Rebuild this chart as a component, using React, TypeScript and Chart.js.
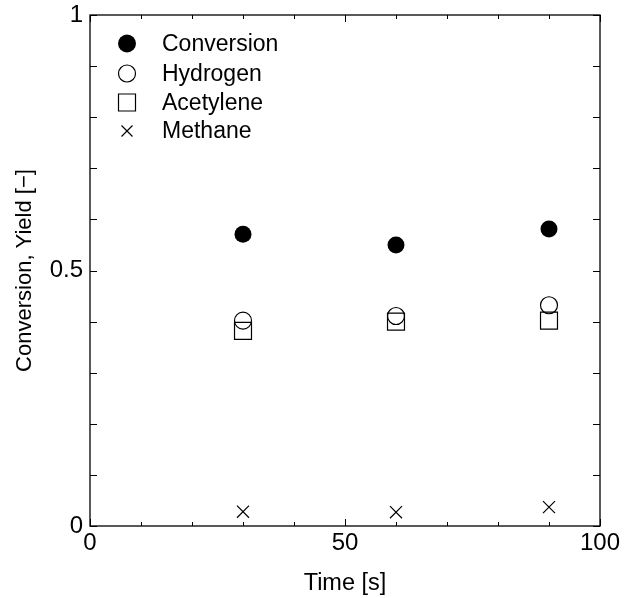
import React, { useEffect, useRef } from 'react';
import { Chart, registerables } from 'chart.js';

Chart.register(...registerables);

const times = [30, 60, 90];
const conversion = [0.571, 0.55, 0.581];
const hydrogen = [0.402, 0.411, 0.432];
const acetylene = [0.382, 0.4, 0.402];
const methane = [0.028, 0.027, 0.037];
const seriesNames = ['Conversion', 'Hydrogen', 'Acetylene', 'Methane'];
const xMajorTicks = [0, 50, 100];
const xMinorTicks = [10, 20, 30, 40, 60, 70, 80, 90];
const yTicks = [0, 0.1, 0.2, 0.3, 0.4, 0.5, 0.6, 0.7, 0.8, 0.9, 1];
const xTitle = 'Time [s]';
const yTitle = 'Conversion, Yield [\u2212]';

const FONT = "Arial, 'Liberation Sans', sans-serif";

function drawMarker(ctx: CanvasRenderingContext2D, kind: number, x: number, y: number) {
  ctx.save();
  ctx.strokeStyle = '#000';
  ctx.fillStyle = '#000';
  ctx.lineWidth = 1.2;
  ctx.beginPath();
  if (kind === 0) {
    ctx.arc(x, y, 9, 0, Math.PI * 2);
    ctx.fill();
  } else if (kind === 1) {
    ctx.arc(x, y, 8.5, 0, Math.PI * 2);
    ctx.stroke();
  } else if (kind === 2) {
    ctx.rect(x - 8.5, y - 8.5, 17, 17);
    ctx.stroke();
  } else {
    ctx.moveTo(x - 5.5, y - 5.5);
    ctx.lineTo(x + 5.5, y + 5.5);
    ctx.moveTo(x + 5.5, y - 5.5);
    ctx.lineTo(x - 5.5, y + 5.5);
    ctx.stroke();
  }
  ctx.restore();
}

const framePlugin = {
  id: 'framePlugin',
  afterDraw(chart: any) {
    const ctx = chart.ctx as CanvasRenderingContext2D;
    const { left, right, top, bottom } = chart.chartArea;
    const xs = chart.scales.x;
    const ys = chart.scales.y;
    ctx.save();
    ctx.strokeStyle = '#000';
    ctx.lineWidth = 1.3;
    ctx.strokeRect(left, top, right - left, bottom - top);
    ctx.lineWidth = 1;
    ctx.beginPath();
    for (const v of xMajorTicks) {
      const px = Math.round(xs.getPixelForValue(v)) + 0.5;
      ctx.moveTo(px, bottom); ctx.lineTo(px, bottom - 7);
      ctx.moveTo(px, top); ctx.lineTo(px, top + 7);
    }
    for (const v of xMinorTicks) {
      const px = Math.round(xs.getPixelForValue(v)) + 0.5;
      ctx.moveTo(px, bottom); ctx.lineTo(px, bottom - 4);
      ctx.moveTo(px, top); ctx.lineTo(px, top + 4);
    }
    for (const v of yTicks) {
      const py = Math.round(ys.getPixelForValue(v)) + 0.5;
      ctx.moveTo(left, py); ctx.lineTo(left + 7, py);
      ctx.moveTo(right, py); ctx.lineTo(right - 7, py);
    }
    ctx.stroke();

    // titles
    ctx.fillStyle = '#000';
    ctx.textAlign = 'center';
    ctx.textBaseline = 'middle';
    ctx.font = `23.5px ${FONT}`;
    ctx.fillText(xTitle, (left + right) / 2, 584);
    ctx.font = `22px ${FONT}`;
    ctx.save();
    ctx.translate(25, (top + bottom) / 2);
    ctx.rotate(-Math.PI / 2);
    ctx.fillText(yTitle, 0, 0);
    ctx.restore();

    // legend
    ctx.textAlign = 'left';
    ctx.textBaseline = 'middle';
    ctx.font = `23px ${FONT}`;
    const rowY = [43.5, 73.5, 102.5, 131];
    seriesNames.forEach((name, i) => {
      drawMarker(ctx, i, 127, rowY[i]);
      ctx.fillText(name, 162, rowY[i] + 1);
    });
    ctx.restore();
  },
};

export default function App() {
  const ref = useRef<HTMLCanvasElement | null>(null);
  useEffect(() => {
    if (!ref.current) return;
    const toPts = (ys: number[]) => times.map((t, i) => ({ x: t, y: ys[i] }));
    const chart = new Chart(ref.current, {
      type: 'scatter',
      data: {
        datasets: [
          {
            label: seriesNames[0],
            data: toPts(conversion),
            pointStyle: 'circle',
            pointRadius: 8.5,
            backgroundColor: '#000',
            borderColor: '#000',
            borderWidth: 0,
          },
          {
            label: seriesNames[1],
            data: toPts(hydrogen),
            pointStyle: 'circle',
            pointRadius: 8.5,
            backgroundColor: 'rgba(0,0,0,0)',
            borderColor: '#000',
            borderWidth: 1.2,
          },
          {
            label: seriesNames[2],
            data: toPts(acetylene),
            pointStyle: 'rect',
            pointRadius: 12,
            backgroundColor: 'rgba(0,0,0,0)',
            borderColor: '#000',
            borderWidth: 1.2,
          },
          {
            label: seriesNames[3],
            data: toPts(methane),
            pointStyle: 'crossRot',
            pointRadius: 8.5,
            backgroundColor: 'rgba(0,0,0,0)',
            borderColor: '#000',
            borderWidth: 1.2,
          },
        ],
      },
      options: {
        animation: false,
        responsive: false,
        maintainAspectRatio: false,
        layout: { padding: { top: 15, right: 33, left: 0, bottom: 0 } },
        plugins: { legend: { display: false }, tooltip: { enabled: false } },
        scales: {
          x: {
            type: 'linear',
            min: 0,
            max: 100,
            grid: { display: false, drawTicks: false },
            border: { display: false },
            ticks: {
              stepSize: 50,
              padding: 3,
              color: '#000',
              font: { family: FONT, size: 24 },
              maxRotation: 0,
            },
            afterFit: (s: any) => { s.height = 72; },
          },
          y: {
            type: 'linear',
            min: 0,
            max: 1,
            grid: { display: false, drawTicks: false },
            border: { display: false },
            ticks: {
              stepSize: 0.5,
              padding: 7,
              color: '#000',
              font: { family: FONT, size: 24, lineHeight: 0.6 },
              callback: (v: any) => String(v),
            },
            afterFit: (s: any) => { s.width = 90; },
          },
        },
      },
      plugins: [framePlugin],
    });
    return () => chart.destroy();
  }, []);
  return (
    <div style={{ position: 'fixed', left: 0, top: 0, width: 633, height: 598, background: '#fff' }}>
      <canvas ref={ref} width={633} height={598} style={{ width: 633, height: 598 }} />
    </div>
  );
}
